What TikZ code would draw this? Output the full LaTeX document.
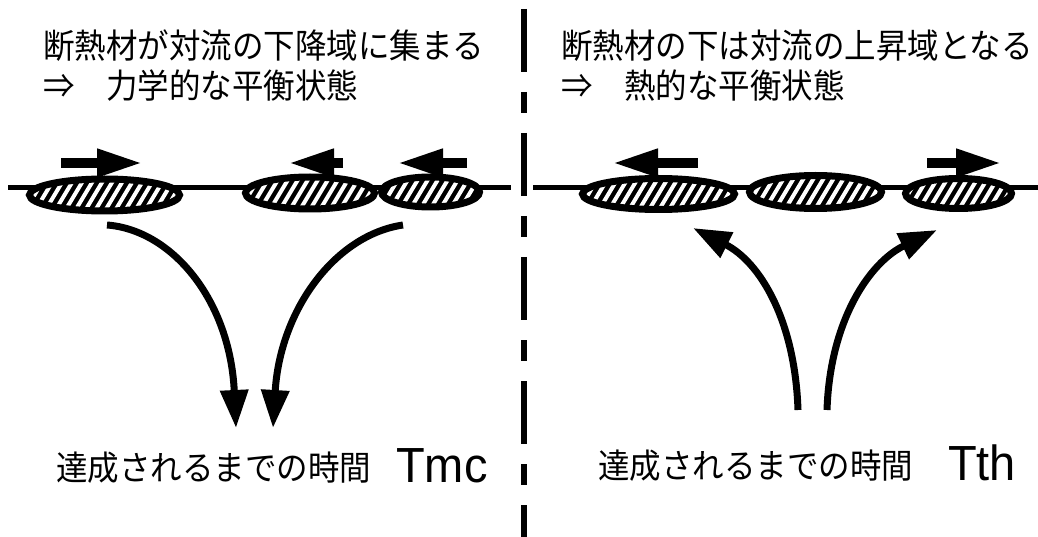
\documentclass[tikz,border=0pt]{standalone}
\usepackage{fontspec}
\newfontfamily\jp{Noto Sans CJK JP}
\newfontfamily\lat{Liberation Sans}
\usetikzlibrary{arrows.meta,shapes.geometric}
\tikzset{
  jtext/.style={inner sep=0pt, font=\jp\fontsize{31.5}{31.5}\selectfont, anchor=base west, yscale=1.08, transform shape},
  ltext/.style={inner sep=0pt, font=\lat\fontsize{47}{47}\selectfont, anchor=base west, yscale=1.05, transform shape},
  baseline/.style={line width=5pt},
  divider/.style={line width=5.5pt, dash pattern=on 63pt off 20pt on 21pt off 20pt},
  insul/.style={ellipse, inner sep=0pt, fill=black, draw=black, line width=7pt,
    path picture={
      \foreach \k in {-16,...,16}
        \draw[white, line width=4pt]
          ([shift={(\k*10pt-15pt,-25pt)}]path picture bounding box.center) -- ++(30pt,50pt);
    }},
  flow/.style={line width=10pt, -{Triangle[length=46pt,width=26pt]}},
  conv/.style={line width=7pt, -{Triangle[length=38pt,width=27pt]}}
}
\begin{document}
\begin{tikzpicture}[x=1pt,y=-1pt]
\fill[white] (0,0) rectangle (1038,537);
\useasboundingbox (0,0) rectangle (1038,537);

% divider
\coordinate (dtop) at (524,9);
\coordinate (dbot) at (524,537);
\draw[divider] (dtop) -- (dbot);

% horizontal lines
\coordinate (l1) at (8,188);
\coordinate (l2) at (511,188);
\coordinate (r1) at (533,188);
\coordinate (r2) at (1038,188);
\draw[baseline] (l1) -- (l2);
\draw[baseline] (r1) -- (r2);

% insulation pieces (left)
\node[insul, minimum width=150pt, minimum height=32pt] (e1) at (104.5,195) {};
\node[insul, minimum width=129pt, minimum height=32pt] (e2) at (310,193) {};
\node[insul, minimum width=98pt, minimum height=30pt] (e3) at (430.5,192) {};
% insulation pieces (right)
\node[insul, minimum width=152pt, minimum height=31pt] (e4) at (658.5,194) {};
\node[insul, minimum width=132pt, minimum height=33pt] (e5) at (815.5,192) {};
\node[insul, minimum width=106pt, minimum height=30pt] (e6) at (958.5,193.5) {};

% movement arrows
\coordinate (a1s) at (61,163);  \coordinate (a1t) at (143,163);
\coordinate (a2s) at (343,163); \coordinate (a2t) at (288,163);
\coordinate (a3s) at (467,163); \coordinate (a3t) at (397,163);
\coordinate (a4s) at (698,163); \coordinate (a4t) at (612,163);
\coordinate (a5s) at (927,163); \coordinate (a5t) at (1002,163);
\draw[flow] (a1s) -- (a1t);
\draw[flow] (a2s) -- (a2t);
\draw[flow] (a3s) -- (a3t);
\draw[flow] (a4s) -- (a4t);
\draw[flow] (a5s) -- (a5t);

% convection arrows (left: downward)
\coordinate (c1s) at (107,225); \coordinate (c1t) at (236,428);
\coordinate (c2s) at (403,225); \coordinate (c2t) at (273,428);
\draw[conv] (c1s) .. controls (172,230) and (230,300) .. (c1t);
\draw[conv] (c2s) .. controls (335,235) and (280,310) .. (c2t);

% convection arrows (right: upward)
\coordinate (c3s) at (798,410); \coordinate (c3t) at (693,228);
\coordinate (c4s) at (827,410); \coordinate (c4t) at (937,230);
\draw[conv] (c3s) .. controls (795,320) and (760,262) .. (c3t);
\draw[conv] (c4s) .. controls (830,320) and (870,262) .. (c4t);

% texts
\node[jtext] (h1) at (43,59) {断熱材が対流の下降域に集まる};
\node[jtext] (h2) at (43,99) {⇒　力学的な平衡状態};
\node[jtext] (h3) at (561,59) {断熱材の下は対流の上昇域となる};
\node[jtext] (h4) at (561,99) {⇒　熱的な平衡状態};
\node[jtext] (b1) at (56,480) {達成されるまでの時間};
\node[ltext] (t1) at (396,482) {Tmc};
\node[jtext] (b2) at (598,478) {達成されるまでの時間};
\node[ltext] (t2) at (948,480) {Tth};
\end{tikzpicture}
\end{document}
